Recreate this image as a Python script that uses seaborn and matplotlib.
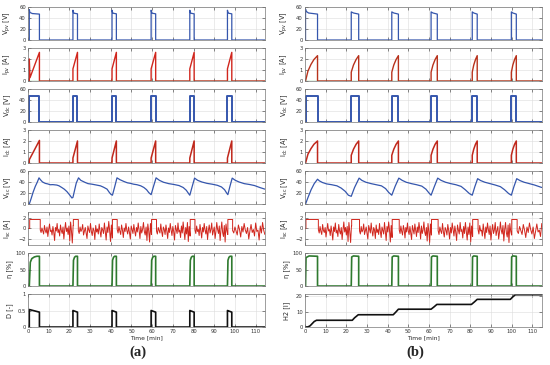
import numpy as np
import seaborn as sns
import matplotlib.pyplot as plt

# --- 1. 风格 ---
sns.set_theme(style='whitegrid')
plt.rcParams['font.family'] = ['DejaVu Sans']
plt.rcParams['mathtext.default'] = 'regular'

BLUE = '#3556ad'
RED = '#d1261d'
GREEN = '#2f7a2f'
LGREEN = '#3aa03a'
BLACK = '#111111'

T_END = 114.5

# --- 2. 数据 ---
# pulse on / off times [min]
on_a = [0.6, 21.7, 40.6, 59.5, 78.2, 96.4]
off_a = [5.5, 23.9, 42.7, 61.7, 80.3, 98.5]
on_b = [0.3, 22.4, 42.0, 61.0, 80.9, 99.8]
off_b = [6.1, 26.0, 45.2, 64.0, 83.3, 102.2]

# shapes inside each pulse: (fraction of pulse, value)
vpv_a = [[(0, 55), (0.06, 50), (0.3, 48), (1, 47)]] + [[(0, 54), (0.12, 50), (0.3, 48.5), (1, 47.5)]] * 5
ipv_a = [[(0, 2.0), (0.07, 0.3), (1, 2.6)]] + [[(0, 1.1), (1, 2.6)]] * 5
vdc_a = [[(0, 48), (1, 48)]] * 6
idc_a = [[(0, 0.3), (1, 2.05)]] + [[(0, 0.45), (1, 2.0)]] * 5
eta_a = [[(0, 0), (0.1, 72), (0.25, 83), (0.5, 88), (0.75, 90), (1, 90)]] + \
        [[(0, 0), (0.12, 78), (0.35, 87), (0.6, 90), (1, 90)]] * 5
d_a = [[(0, 0.53), (1, 0.45)]] + [[(0, 0.5), (0.2, 0.49), (1, 0.45)]] * 5

vpv_b = [[(0, 56), (0.05, 52), (0.25, 49), (1, 47)]] + [[(0, 51), (0.3, 49), (1, 47)]] * 5
ipv_b = [[(0, 0), (0.2, 0.9), (0.45, 1.5), (0.7, 1.95), (1, 2.3)]] + \
        [[(0, 0.8), (0.3, 1.45), (0.65, 1.95), (1, 2.3)]] * 5
vdc_b = [[(0, 48), (1, 48)]] * 6
idc_b = [[(0, 0), (0.2, 0.8), (0.45, 1.3), (0.7, 1.7), (1, 2.0)]] + \
        [[(0, 0.7), (0.3, 1.25), (0.65, 1.7), (1, 2.0)]] * 5
eta_b = [[(0, 0), (0.04, 86), (0.3, 91), (1, 90)]] + [[(0, 0), (0.06, 88), (0.3, 91), (1, 90)]] * 5

# supercapacitor voltage
vsc_a_t = [0, 0.6, 1.5, 2.5, 3.5, 4.5, 5.3, 6.0, 7.0, 8.3, 9.5, 10.7, 12.0, 13.9, 15.0, 16.3, 17.5, 18.8, 20.0, 21.2,
           21.7, 22.5, 23.3, 24.4, 25.5, 27.7, 29.0, 30.9, 33.0, 35.0, 36.5, 38.2, 39.3, 40.1,
           40.8, 41.8, 43.0, 44.5, 46.3, 48.0, 49.5, 51.0, 52.7, 54.5, 56.0, 57.3, 58.4,
           59.5, 60.5, 61.9, 63.5, 65.5, 68.0, 70.5, 73.0, 75.0, 76.5, 77.6,
           78.2, 79.3, 80.5, 82.0, 84.0, 86.5, 89.0, 91.5, 93.5, 95.0, 96.0,
           96.6, 97.6, 98.7, 100.2, 102.0, 104.5, 107.0, 109.5, 112.0, 114.5]
vsc_a_v = [0, 0, 10, 22, 32, 40, 47.5, 44, 40, 37.5, 36.5, 35, 35.2, 34.4, 33, 30, 27, 22.5, 17, 11,
           12, 25, 38, 47.5, 43, 39, 37, 36, 34.5, 33, 30.5, 27, 21, 17.5,
           16, 30, 47.5, 44, 41, 38.5, 37.5, 36, 35, 33, 30, 26, 20.6,
           17, 30, 47.5, 43, 39.5, 37, 35.5, 33.5, 30, 25, 19,
           16, 31, 47, 43, 40, 37.5, 36, 34, 31, 26, 20,
           17, 32, 47, 43, 40, 37, 35.5, 33.5, 30, 27]
vsc_b_t = [0, 0.3, 1.5, 3.0, 4.5, 6.1, 7.0, 8.5, 10.5, 13.0, 15.5, 17.5, 19.5, 21.0,
           22.4, 24.0, 26.2, 27.5, 29.5, 32.0, 34.5, 37.0, 39.0, 40.5,
           42.0, 43.6, 45.4, 47.0, 49.0, 51.5, 54.0, 56.5, 58.5, 60.0,
           61.0, 62.5, 64.2, 65.8, 68.0, 70.5, 73.0, 75.5, 77.5, 79.5,
           80.9, 82.1, 83.5, 85.0, 87.0, 89.5, 92.0, 94.5, 96.5, 98.5,
           99.8, 101.0, 102.4, 104.0, 106.0, 108.5, 111.0, 114.5]
vsc_b_v = [0, 0, 12, 26, 37, 45, 42, 39, 36.5, 35, 33, 29, 23, 16,
           14, 30, 47, 43, 39.5, 37, 35, 33, 28, 21,
           16, 32, 47, 43, 39.5, 37, 35, 32.5, 27, 20,
           16, 31, 47, 43, 39.5, 37, 35, 32, 26, 19,
           16, 31, 46, 42.5, 39.5, 37, 34.5, 31.5, 26, 19,
           16, 31, 46, 42.5, 39.5, 37, 34.5, 30]

# supercapacitor current: noisy samples between pulses
isc_a_gaps = [
    [-0.3, -0.8, 0.1, -0.5, -1.1, 0.6, -0.4, -0.9, 0.3, -1.6, -0.2, 0.9, -0.6, -0.3, -1.3, 0.4, -0.7, -2.4, 0.2, -0.5,
     1.0, -0.8, -0.2, -1.5, 0.7, -0.4, -1.0, 0.3, -2.1, -0.2, 1.2, -0.6, 0.1, -1.2, 0.5, -2.5, 1.3, -0.5, -2.9, 0.6],
    [-0.4, -1.0, 0.3, -0.6, -0.2, 0.8, -1.3, -0.5, 0.2, -0.9, -2.0, 0.5, -0.3, -0.8, 1.0, -0.6, -1.4, 0.1, -0.4, -2.2,
     0.6, -0.7, -0.1, -1.1, 0.9, -0.5, -1.7, 0.2, -0.3, -1.0, 1.1, -0.6, -2.3, 0.3, -0.8, 1.4, -0.4, -2.6, 0.7, -1.9],
    [-0.2, -0.9, 0.4, -0.5, -1.2, 0.7, -0.3, -1.8, 0.1, -0.6, 1.0, -0.4, -1.1, 0.3, -0.8, -2.1, 0.5, -0.2, -1.0, 0.8,
     -0.5, -1.5, 0.2, -0.7, 1.1, -0.3, -2.0, 0.4, -0.9, -0.2, 1.2, -0.6, -1.3, 0.3, -2.4, 0.9, -0.5, -2.7, 1.0, -1.2],
    [-0.5, -1.1, 0.2, -0.4, -0.9, 0.9, -0.6, -1.6, 0.3, -0.2, -1.2, 0.7, -0.5, -2.0, 0.1, -0.8, 1.0, -0.3, -1.4, 0.4,
     -0.6, -2.3, 0.6, -0.2, -1.0, 1.1, -0.7, -0.3, -1.8, 0.5, -0.9, 1.3, -0.4, -2.2, 0.2, -1.1, 1.2, -2.6, 0.4, -1.5],
    [-0.3, -1.0, 0.5, -0.6, -0.2, -1.4, 0.8, -0.5, -1.9, 0.2, -0.7, 1.0, -0.3, -1.1, 0.4, -2.2, -0.4, 0.7, -0.9, -0.2,
     1.1, -1.3, -0.5, 0.3, -2.0, -0.6, 1.2, -0.2, -1.0, 0.5, -2.4, -0.3, 1.3, -0.8, -1.6, 0.6, -2.7, 0.9, -0.4, -1.2],
    [-0.4, -0.9, 0.3, -0.5, -1.3, 0.7, -0.2, -1.7, 0.4, -0.7, 1.0, -0.3, -1.0, 0.2, -2.1, -0.5, 0.8, -0.8, -0.2, -1.5,
     1.1, -0.6, -0.3, -2.3, 0.5, -0.9, 1.2, -0.4, -1.2],
]
isc_b_gaps = [
    [-0.2, -0.9, 0.4, -0.6, -1.2, 0.8, -0.4, -0.8, 0.2, -1.7, -0.3, 1.0, -0.5, -0.2, -1.4, 0.5, -0.8, -2.3, 0.3, -0.6,
     1.1, -0.9, -0.3, -1.6, 0.8, -0.5, -1.1, 0.2, -2.2, -0.3, 1.3, -0.7, 0.2, -1.3, 0.4, -2.6, 1.2, -0.6, -2.8, 0.5],
    [-0.5, -1.1, 0.4, -0.7, -0.3, 0.9, -1.2, -0.4, 0.3, -1.0, -2.1, 0.6, -0.2, -0.9, 1.1, -0.5, -1.5, 0.2, -0.3, -2.0,
     0.7, -0.8, -0.2, -1.2, 1.0, -0.6, -1.8, 0.3, -0.4, -1.1, 1.2, -0.5, -2.4, 0.4, -0.7, 1.3, -0.3, -2.7, 0.6, -1.8],
    [-0.3, -1.0, 0.5, -0.6, -1.3, 0.6, -0.2, -1.9, 0.2, -0.7, 1.1, -0.5, -1.2, 0.4, -0.9, -2.2, 0.6, -0.3, -1.1, 0.9,
     -0.4, -1.6, 0.3, -0.8, 1.2, -0.2, -2.1, 0.5, -1.0, -0.3, 1.3, -0.7, -1.4, 0.2, -2.5, 1.0, -0.6, -2.8, 0.9, -1.3],
    [-0.4, -1.2, 0.3, -0.5, -1.0, 1.0, -0.7, -1.7, 0.2, -0.3, -1.3, 0.8, -0.4, -2.1, 0.2, -0.9, 1.1, -0.2, -1.5, 0.5,
     -0.7, -2.4, 0.7, -0.3, -1.1, 1.2, -0.6, -0.2, -1.9, 0.4, -1.0, 1.2, -0.5, -2.3, 0.3, -1.2, 1.1, -2.7, 0.5, -1.6],
    [-0.2, -1.1, 0.6, -0.5, -0.3, -1.5, 0.9, -0.6, -2.0, 0.3, -0.8, 1.1, -0.2, -1.2, 0.5, -2.3, -0.5, 0.8, -1.0, -0.3,
     1.2, -1.4, -0.4, 0.4, -2.1, -0.7, 1.3, -0.3, -1.1, 0.6, -2.5, -0.2, 1.2, -0.9, -1.7, 0.7, -2.8, 1.0, -0.5, -1.3],
    [-0.5, -1.0, 0.4, -0.4, -1.2, 0.8, -0.3, -1.8, 0.3, -0.8, 1.1, -0.2, -1.1, 0.3, -2.0, -0.6, 0.9, -0.7, -0.3, -1.6,
     1.0],
]
ISC_HIGH = 1.8

# hydrogen volume (b)
h2_t = [0, 1.5, 2.5, 3.5, 4.5, 5.6, 22.9, 24.0, 25.8, 42.7, 44.0, 45.2, 61.0, 62.5, 63.8,
        80.5, 82.0, 83.3, 99.3, 100.5, 101.7, T_END]
h2_v = [0, 0.1, 0.8, 2.2, 3.6, 4.4, 4.4, 6.0, 8.0, 8.0, 9.8, 11.6, 11.6, 13.2, 14.7,
        14.7, 16.4, 18.0, 18.0, 19.6, 21.0, 21.0]


# --- 3. 辅助函数 ---
def pulse_trace(on, off, shapes):
    t, v = [0.0], [0.0]
    for s, e, shp in zip(on, off, shapes):
        t.append(s); v.append(0.0)
        for f, val in shp:
            t.append(s + f * (e - s)); v.append(val)
        t.append(e); v.append(0.0)
    t.append(T_END); v.append(0.0)
    return t, v


def isc_trace(on, off, gaps):
    t, v = [0.0, on[0]], [0.0, 0.0]
    starts = [s + 0.2 for s in on]
    ends = [e + 0.4 for e in off]
    for i in range(len(on)):
        t += [starts[i], starts[i], ends[i]]
        v += [v[-1], ISC_HIGH, ISC_HIGH]
        g0 = ends[i]
        g1 = starts[i + 1] - 0.1 if i + 1 < len(on) else T_END
        vals = gaps[i]
        t += list(np.linspace(g0, g1, len(vals)))
        v += vals
    return t, v


def draw(ax, t, v, color, lw=0.9):
    sns.lineplot(x=t, y=v, ax=ax, color=color, lw=lw, estimator=None, sort=False)


# --- 4. 画布 ---
fig, axes = plt.subplots(8, 2, figsize=(5.5, 3.65), dpi=100)
fig.subplots_adjust(left=0.051, right=0.985, top=0.981, bottom=0.104, wspace=0.169, hspace=0.24)

cols = [
    dict(on=on_a, off=off_a, vpv=vpv_a, ipv=ipv_a, vdc=vdc_a, idc=idc_a, eta=eta_a,
         vsc=(vsc_a_t, vsc_a_v), isc=isc_a_gaps),
    dict(on=on_b, off=off_b, vpv=vpv_b, ipv=ipv_b, vdc=vdc_b, idc=idc_b, eta=eta_b,
         vsc=(vsc_b_t, vsc_b_v), isc=isc_b_gaps),
]

for c, d in enumerate(cols):
    ax = axes[:, c]
    on, off = d['on'], d['off']
    draw(ax[0], *pulse_trace(on, off, d['vpv']), BLUE, 0.9)
    if c == 0:
        draw(ax[1], *pulse_trace(on, off, d['ipv']), RED, 1.0)
        draw(ax[1], [0, T_END], [0, 0], LGREEN, 0.9)
    else:
        draw(ax[1], [0, T_END], [0, 0], LGREEN, 0.9)
        draw(ax[1], *pulse_trace(on, off, d['ipv']), '#b8321c', 1.0)
    draw(ax[2], *pulse_trace(on, off, d['vdc']), BLUE, 1.4)
    draw(ax[3], *pulse_trace(on, off, d['idc']), '#c0281c', 1.1)
    draw(ax[4], *d['vsc'], BLUE, 0.9)
    draw(ax[5], *isc_trace(on, off, d['isc']), RED, 0.7)
    draw(ax[6], *pulse_trace(on, off, d['eta']), GREEN, 1.2)
    if c == 0:
        draw(ax[7], *pulse_trace(on, off, d_a), BLACK, 1.2)
    else:
        draw(ax[7], h2_t, h2_v, BLACK, 1.2)

ylabels = [r'V$_{pv}$ [V]', r'I$_{pv}$ [A]', r'V$_{dc}$ [V]', r'I$_{dc}$ [A]',
           r'V$_{sc}$ [V]', r'I$_{sc}$ [A]', r'η [%]']
ylims = [(0, 60), (0, 3), (0, 60), (0, 3), (0, 60), (-3.3, 3.3), (0, 100)]
yticks = [[0, 20, 40, 60], [0, 1, 2, 3], [0, 20, 40, 60], [0, 1, 2, 3],
          [0, 20, 40, 60], [-2, 0, 2], [0, 50, 100]]

for c in range(2):
    for r in range(8):
        ax = axes[r, c]
        ax.set_xlim(0, T_END)
        ax.set_xticks(range(0, 111, 10))
        if r < 7:
            ax.set_ylim(*ylims[r]); ax.set_yticks(yticks[r]); ax.set_ylabel(ylabels[r])
        elif c == 0:
            ax.set_ylim(0, 1); ax.set_yticks([0, 0.5, 1]); ax.set_yticklabels(['0', '0.5', '1'])
            ax.set_ylabel('D [-]')
        else:
            ax.set_ylim(0, 21.5); ax.set_yticks([0, 10, 20]); ax.set_ylabel('H2 [l]')
        ax.tick_params(direction='in', length=2, width=0.4, labelsize=3.8, pad=1.5,
                       colors='#333333', left=True, bottom=True, top=True, right=True)
        ax.yaxis.label.set_size(4.8)
        ax.yaxis.labelpad = 2
        ax.grid(True, color='#dcdcdc', lw=0.4)
        for s in ax.spines.values():
            s.set_color('#777777'); s.set_linewidth(0.5)
        ax.set_xlabel('')
        if r < 7:
            ax.set_xticklabels([])
        else:
            ax.set_xlabel('Time [min]', fontsize=4.3, labelpad=1)
    fig.align_ylabels(axes[:, c])

fig.text(0.2505, 0.036, '(a)', ha='center', va='center', fontsize=10.5, fontweight='bold',
         family=['Liberation Serif', 'DejaVu Serif'])
fig.text(0.7545, 0.036, '(b)', ha='center', va='center', fontsize=10.5, fontweight='bold',
         family=['Liberation Serif', 'DejaVu Serif'])

plt.savefig('out.png', dpi=100)
